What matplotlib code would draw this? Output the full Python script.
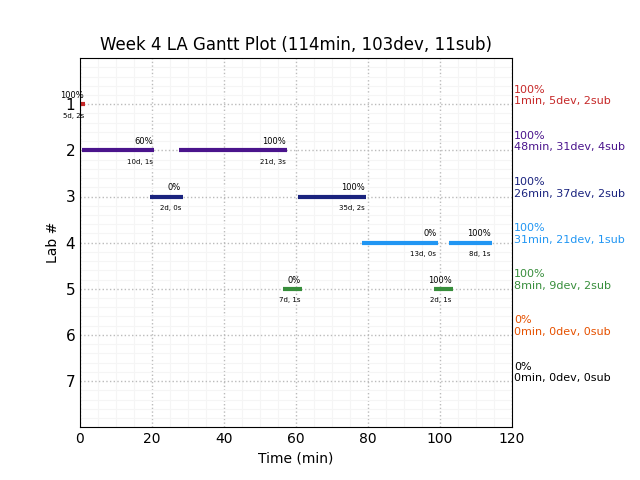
import matplotlib
matplotlib.use("Agg")
import matplotlib.pyplot as plt
from matplotlib.ticker import MultipleLocator

# Lab rows
labs = [1, 2, 3, 4, 5, 6, 7]
lab_colors = ["#C62828", "#4A148C", "#1A237E", "#2196F3", "#388E3C", "#E65100", "#000000"]

# Sessions per lab: (lab, start_min, end_min, percent label, duration label)
sess_lab = [1, 2, 2, 3, 3, 4, 4, 5, 5]
sess_start = [0.3, 0.5, 27.4, 19.4, 60.6, 78.3, 102.5, 56.3, 98.3]
sess_end = [1.5, 20.6, 57.5, 28.5, 79.4, 99.4, 114.4, 61.7, 103.6]
sess_pct = ["100%", "60%", "100%", "0%", "100%", "0%", "100%", "0%", "100%"]
sess_dur = ["5d, 2s", "10d, 1s", "21d, 3s", "2d, 0s", "35d, 2s", "13d, 0s", "8d, 1s", "7d, 1s", "2d, 1s"]

# Summary per lab on the right
lab_pct = ["100%", "100%", "100%", "100%", "100%", "0%", "0%"]
lab_summary = ["1min, 5dev, 2sub", "48min, 31dev, 4sub", "26min, 37dev, 2sub",
               "31min, 21dev, 1sub", "8min, 9dev, 2sub", "0min, 0dev, 0sub",
               "0min, 0dev, 0sub"]

fig = plt.figure(figsize=(6.4, 4.8), dpi=100)
ax = fig.add_axes([0.125, 0.11, 0.675, 0.769])

for lab, s, e, p, d in zip(sess_lab, sess_start, sess_end, sess_pct, sess_dur):
    c = lab_colors[lab - 1]
    ax.hlines(lab, s, e, color=c, linewidth=3)
    ax.annotate(p, (e, lab), xytext=(-1, 3), textcoords="offset points",
                ha="right", va="bottom", fontsize=6)
    ax.annotate(d, (e, lab), xytext=(-1, -6), textcoords="offset points",
                ha="right", va="top", fontsize=5)

for lab, p, summ in zip(labs, lab_pct, lab_summary):
    ax.annotate(p + "\n" + summ, (120, lab), xytext=(1.5, -1.5),
                textcoords="offset points", color=lab_colors[lab - 1],
                ha="left", va="bottom", fontsize=8, annotation_clip=False)

ax.set_xlim(0, 120)
ax.set_ylim(8, 0)
ax.set_yticks(labs)
ax.set_yticklabels([str(l) for l in labs], fontsize=11)
ax.xaxis.set_minor_locator(MultipleLocator(5))
ax.yaxis.set_minor_locator(MultipleLocator(0.2))
ax.tick_params(which="both", length=0)
ax.grid(which="major", color="#bbbbbb", linestyle=":", linewidth=1)
ax.grid(which="minor", color="#f5f5f5", linestyle="-", linewidth=0.8)
ax.set_axisbelow(True)

ax.set_xlabel("Time (min)")
ax.set_ylabel("Lab #")
ax.set_title("Week 4 LA Gantt Plot (114min, 103dev, 11sub)")

fig.savefig("out.png", dpi=100)
